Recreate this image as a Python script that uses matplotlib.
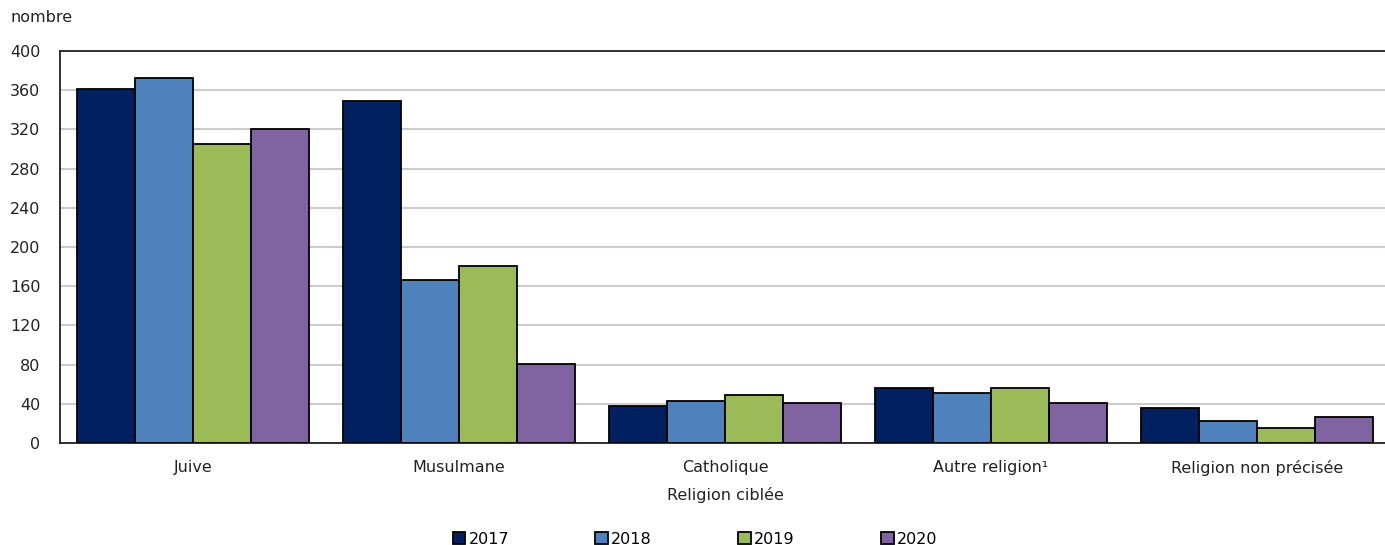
# bar chart: religion ciblée, 2017-2020
import matplotlib.pyplot as plt
import numpy as np

categories = ['Juive', 'Musulmane', 'Catholique', 'Autre religion¹', 'Religion non précisée']
years = ['2017', '2018', '2019', '2020']
v2017 = [361, 349, 38, 56, 36]
v2018 = [372, 166, 43, 51, 22]
v2019 = [305, 181, 49, 56, 15]
v2020 = [320, 81, 41, 41, 27]
colors = ['#002060', '#4f81bd', '#9bbb59', '#8064a2']
yticks = list(range(0, 401, 40))


def main():
    plt.rcParams['font.family'] = ['DejaVu Sans']
    fig = plt.figure(figsize=(13.85, 5.45), dpi=100)
    ax = fig.add_axes([60 / 1385, 102 / 545, 1330 / 1385, 392 / 545])

    series = [v2017, v2018, v2019, v2020]
    x = np.arange(len(categories))
    w = 0.218
    for i, vals in enumerate(series):
        ax.bar(x + (i - 1.5) * w, vals, w, color=colors[i], edgecolor='black',
               linewidth=1.3, label=years[i], zorder=3)

    ax.set_xlim(-0.5, len(categories) - 0.5)
    ax.set_ylim(0, 400)
    ax.set_yticks(yticks)
    ax.set_xticks(x)
    ax.set_xticklabels(categories, fontsize=11.5, color='#222222')
    ax.tick_params(axis='y', labelsize=11.5, labelcolor='#222222', length=0, pad=14)
    ax.tick_params(axis='x', length=0, pad=12)
    ax.grid(axis='y', color='#cccccc', linewidth=1.5, zorder=0)
    for s in ['top', 'left', 'bottom']:
        ax.spines[s].set_color('#222222')
        ax.spines[s].set_linewidth(1.3)
    ax.spines['right'].set_visible(False)

    ax.set_xlabel('Religion ciblée', fontsize=11.5, color='#222222', labelpad=8)
    fig.text(10 / 1385, 1 - 18 / 545, 'nombre', fontsize=11.5, color='#222222', va='center')

    # legend under the plot, a bit left of the axes centre
    ax.legend(loc='center', bbox_to_anchor=(0.4775, -0.245),
              ncol=4, frameon=False, fontsize=11.5, handlelength=0.8, handleheight=0.8,
              handletextpad=0.2, columnspacing=5.4, borderaxespad=0)

    fig.savefig('out.png', dpi=100)


if __name__ == "__main__":
    main()
